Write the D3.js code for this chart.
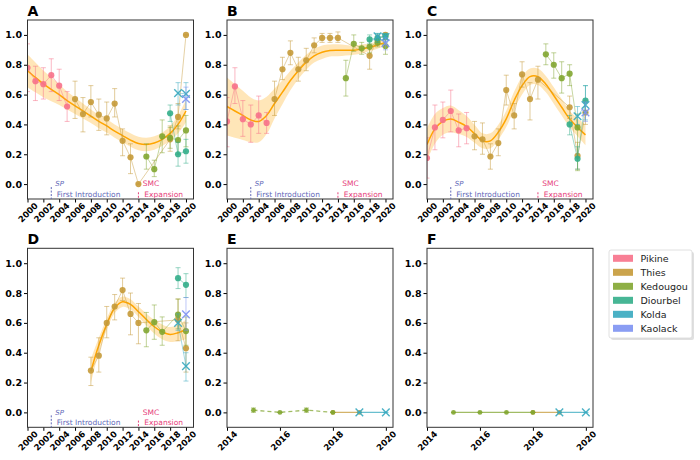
<!DOCTYPE html>
<html><head><meta charset="utf-8">
<script src="https://cdn.jsdelivr.net/npm/d3@7"></script>
<style>body{margin:0;background:#fff}svg{display:block}text{font-family:"DejaVu Sans",sans-serif}</style>
</head><body><svg id="c" width="700" height="460"></svg>
<script>
// ---------------- DATA ----------------
const regions = ['Pikine','Thies','Kedougou','Diourbel','Kolda','Kaolack'];
const colors  = ['#f77189','#c59a38','#82a631','#33ae8a','#37a9bf','#7d92f2'];
const markers = ['o','o','o','o','x','x'];
const yTicks = [0,0.2,0.4,0.6,0.8,1.0];
const xTicksLong = [2000,2002,2004,2006,2008,2010,2012,2014,2016,2018,2020];
const xTicksShort = [2014,2016,2018,2020];
const panelLabels = ['A','B','C','D','E','F'];

// rows: [year, mean, lower, upper]
const A_Pikine = [[2000,0.78,0.62,0.94],[2001,0.69,0.56,0.79],[2002,0.67,0.57,0.78],[2003,0.73,0.62,0.84],[2004,0.66,0.56,0.77],[2005,0.52,0.42,0.62]];
const A_Thies = [[2006,0.57,0.44,0.69],[2007,0.47,0.35,0.58],[2008,0.55,0.45,0.66],[2009,0.465,0.36,0.57],[2010,0.44,0.33,0.55],[2011,0.54,0.45,0.64],[2012,0.29,0.19,0.37],[2013,0.18,0.07,0.27],[2014,0.0,0.0,0.0],[2018,0.30,0.22,0.39],[2019,0.45,0.37,0.54],[2020,1.0,1.0,1.0]];
const A_Kedougou = [[2015,0.185,0.10,0.27],[2016,0.10,0.05,0.16],[2017,0.32,0.21,0.43],[2018,0.31,0.24,0.38],[2019,0.295,0.20,0.39],[2020,0.36,0.25,0.46]];
const A_Diourbel = [[2018,0.475,0.42,0.53],[2019,0.20,0.12,0.28],[2020,0.22,0.14,0.30]];
const A_Kolda = [[2019,0.61,0.53,0.68],[2020,0.605,0.50,0.68]];
const A_Kaolack = [[2020,0.57,0.50,0.65]];
const A_fitYears = [2000,2001,2002,2003,2004,2005,2006,2007,2008,2009,2010,2011,2012,2013,2014,2015,2016,2017,2018,2019,2020];
const A_fitMean = [0.76,0.715,0.672,0.635,0.60,0.56,0.525,0.49,0.455,0.42,0.39,0.355,0.325,0.295,0.272,0.265,0.275,0.30,0.34,0.40,0.49];
const A_fitHalf = [0.11,0.10,0.09,0.08,0.07,0.06,0.055,0.05,0.045,0.045,0.045,0.045,0.045,0.045,0.045,0.045,0.045,0.045,0.05,0.06,0.075];

const B_Pikine = [[2000,0.42,0.25,0.58],[2001,0.655,0.54,0.78],[2002,0.435,0.32,0.56],[2003,0.40,0.28,0.53],[2004,0.46,0.34,0.59],[2005,0.41,0.34,0.48]];
const B_Thies = [[2006,0.57,0.46,0.69],[2007,0.77,0.70,0.85],[2008,0.88,0.80,0.96],[2009,0.77,0.69,0.85],[2010,0.83,0.76,0.91],[2011,0.93,0.88,0.98],[2012,0.98,0.95,1.01],[2013,0.98,0.95,1.01],[2014,0.98,0.95,1.02],[2018,0.86,0.77,0.93],[2019,0.97,0.93,1.0],[2020,1.0,0.97,1.01]];
const B_Kedougou = [[2015,0.71,0.59,0.83],[2016,0.94,0.89,1.0],[2017,0.91,0.87,0.95],[2018,0.92,0.88,0.96],[2019,0.95,0.92,0.98],[2020,0.925,0.87,0.97]];
const B_Diourbel = [[2018,0.97,0.94,1.0],[2019,0.98,0.95,1.01],[2020,0.99,0.96,1.01]];
const B_Kolda = [[2019,0.99,0.96,1.01],[2020,0.985,0.95,1.01]];
const B_Kaolack = [[2020,0.945,0.90,0.98]];
const B_fitYears = A_fitYears;
const B_fitMean = [0.52,0.49,0.46,0.43,0.42,0.46,0.54,0.616,0.694,0.76,0.817,0.86,0.884,0.895,0.897,0.897,0.897,0.905,0.917,0.932,0.95];
const B_fitHalf = [0.195,0.18,0.165,0.15,0.14,0.125,0.10,0.08,0.065,0.055,0.05,0.045,0.045,0.04,0.04,0.035,0.03,0.03,0.025,0.025,0.025];

const C_Pikine = [[2000,0.175,0.04,0.31],[2001,0.38,0.23,0.53],[2002,0.43,0.31,0.55],[2003,0.49,0.35,0.63],[2004,0.36,0.25,0.47],[2005,0.375,0.27,0.48]];
const C_Thies = [[2006,0.32,0.23,0.42],[2007,0.30,0.20,0.41],[2008,0.185,0.10,0.27],[2009,0.275,0.19,0.37],[2010,0.63,0.53,0.73],[2011,0.46,0.37,0.54],[2012,0.735,0.65,0.82],[2013,0.57,0.43,0.68],[2014,0.70,0.57,0.79],[2018,0.515,0.44,0.59],[2019,0.19,0.10,0.28],[2020,0.48,0.40,0.56]];
const C_Kedougou = [[2015,0.87,0.80,0.94],[2016,0.80,0.71,0.88],[2017,0.71,0.61,0.82],[2018,0.74,0.66,0.80],[2019,0.38,0.09,0.47]];
const C_Diourbel = [[2018,0.40,0.33,0.46],[2019,0.17,0.10,0.25],[2020,0.56,0.48,0.66]];
const C_Kolda = [[2019,0.455,0.40,0.52],[2020,0.53,0.43,0.66]];
const C_Kaolack = [[2020,0.48,0.42,0.55]];
const C_fitYears = A_fitYears;
const C_fitMean = [0.265,0.37,0.42,0.437,0.415,0.386,0.337,0.29,0.29,0.348,0.437,0.56,0.66,0.72,0.72,0.67,0.594,0.515,0.437,0.38,0.33];
const C_fitHalf = [0.11,0.10,0.09,0.09,0.08,0.07,0.06,0.05,0.05,0.05,0.055,0.06,0.06,0.055,0.055,0.055,0.055,0.055,0.055,0.06,0.07];

const D_Pikine = [];
const D_Thies = [[2008,0.28,0.18,0.37],[2009,0.38,0.27,0.50],[2010,0.60,0.50,0.71],[2011,0.71,0.62,0.79],[2012,0.82,0.75,0.90],[2013,0.66,0.52,0.80],[2014,0.60,0.46,0.73],[2019,0.62,0.48,0.76],[2020,0.43,0.27,0.60]];
const D_Kedougou = [[2015,0.55,0.44,0.67],[2016,0.605,0.49,0.72],[2017,0.54,0.45,0.64],[2019,0.655,0.56,0.76],[2020,0.545,0.45,0.64]];
const D_Diourbel = [[2019,0.90,0.83,0.97],[2020,0.855,0.77,0.93]];
const D_Kolda = [[2019,0.60,0.55,0.66],[2020,0.31,0.21,0.40]];
const D_Kaolack = [[2020,0.657,0.55,0.77]];
const D_fitYears = [2008,2009,2010,2011,2012,2013,2014,2015,2016,2017,2018,2019,2020];
const D_fitMean = [0.276,0.45,0.59,0.70,0.742,0.724,0.675,0.623,0.574,0.54,0.522,0.534,0.556];
const D_fitHalf = [0.08,0.05,0.04,0.035,0.035,0.035,0.035,0.04,0.045,0.05,0.05,0.055,0.065];

const E_Pikine = [];
const E_Thies = [[2018,0,0,0],[2019,0,0,0]];
const E_Kedougou = [[2015,0.015,0.0,0.03],[2016,0,0,0],[2017,0.015,0.0,0.03],[2018,0,0,0]];
const E_Diourbel = [];
const E_Kolda = [[2019,0,0,0],[2020,0,0,0]];
const E_Kaolack = [];

const F_Pikine = [];
const F_Thies = [[2018,0,0,0],[2019,0,0,0]];
const F_Kedougou = [[2015,0,0,0],[2016,0,0,0],[2017,0,0,0],[2018,0,0,0]];
const F_Diourbel = [];
const F_Kolda = [[2019,0,0,0],[2020,0,0,0]];
const F_Kaolack = [];

// ---------------- LAYOUT ----------------
const svg = d3.select('#c');
const W = 166, H = 179;
const lefts = [27.5, 227, 427];
const tops = [20, 248.3];

const panels = [
  {lab:'A', col:0,row:0, dom:[2000,2020.95], ticks:xTicksLong, series:[A_Pikine,A_Thies,A_Kedougou,A_Diourbel,A_Kolda,A_Kaolack], fit:[A_fitYears,A_fitMean,A_fitHalf], annot:true, dashed:[]},
  {lab:'B', col:1,row:0, dom:[2000,2020.95], ticks:xTicksLong, series:[B_Pikine,B_Thies,B_Kedougou,B_Diourbel,B_Kolda,B_Kaolack], fit:[B_fitYears,B_fitMean,B_fitHalf], annot:true, dashed:[]},
  {lab:'C', col:2,row:0, dom:[2000,2020.95], ticks:xTicksLong, series:[C_Pikine,C_Thies,C_Kedougou,C_Diourbel,C_Kolda,C_Kaolack], fit:[C_fitYears,C_fitMean,C_fitHalf], annot:true, dashed:[]},
  {lab:'D', col:0,row:1, dom:[2000,2020.95], ticks:xTicksLong, series:[D_Pikine,D_Thies,D_Kedougou,D_Diourbel,D_Kolda,D_Kaolack], fit:[D_fitYears,D_fitMean,D_fitHalf], annot:true, dashed:[]},
  {lab:'E', col:1,row:1, dom:[2014,2020.27], ticks:xTicksShort, series:[E_Pikine,E_Thies,E_Kedougou,E_Diourbel,E_Kolda,E_Kaolack], fit:null, annot:false, dashed:['Kedougou'], small:true},
  {lab:'F', col:2,row:1, dom:[2014,2020.27], ticks:xTicksShort, series:[F_Pikine,F_Thies,F_Kedougou,F_Diourbel,F_Kolda,F_Kaolack], fit:null, annot:false, dashed:[], small:true},
];

panels.forEach((p,pi)=>{
  const L = lefts[p.col], T = tops[p.row];
  const x = d3.scaleLinear().domain(p.dom).range([L, L+W]);
  const y = d3.scaleLinear().domain([-0.1,1.1]).range([T+H, T]);
  const g = svg.append('g');
  const cid = 'clip'+pi;
  svg.append('clipPath').attr('id',cid).append('rect').attr('x',L).attr('y',T).attr('width',W).attr('height',H);
  const pg = g.append('g').attr('clip-path',`url(#${cid})`);

  if (p.fit){
    const [fy,fm,fh] = p.fit;
    const fd = fy.map((yr,i)=>({yr, m:fm[i], h:fh[i]}));
    pg.append('path').datum(fd)
      .attr('d', d3.area().curve(d3.curveCatmullRom).x(d=>x(d.yr)).y0(d=>y(d.m-d.h)).y1(d=>y(d.m+d.h)))
      .attr('fill','#ffa500').attr('fill-opacity',0.28).attr('stroke','none');
    pg.append('path').datum(fd)
      .attr('d', d3.line().curve(d3.curveCatmullRom).x(d=>x(d.yr)).y(d=>y(d.m)))
      .attr('fill','none').attr('stroke','#ffa500').attr('stroke-width',1.5);
  }

  const r = p.small ? 2.4 : 3.1;
  p.series.forEach((data,si)=>{
    if (!data.length) return;
    const col = colors[si];
    const dashed = p.dashed.includes(regions[si]);
    pg.append('path').datum(data)
      .attr('d', d3.line().x(d=>x(d[0])).y(d=>y(d[1])))
      .attr('fill','none').attr('stroke',col).attr('stroke-width', p.small?1.3:1)
      .attr('stroke-opacity', p.small?0.75:0.45)
      .attr('stroke-dasharray', dashed ? '4,3' : null);
    data.forEach(d=>{
      const eg = pg.append('g').attr('stroke',col).attr('stroke-opacity',0.5).attr('stroke-width',1);
      eg.append('line').attr('x1',x(d[0])).attr('x2',x(d[0])).attr('y1',y(d[2])).attr('y2',y(d[3]));
      eg.append('line').attr('x1',x(d[0])-2.5).attr('x2',x(d[0])+2.5).attr('y1',y(d[2])).attr('y2',y(d[2]));
      eg.append('line').attr('x1',x(d[0])-2.5).attr('x2',x(d[0])+2.5).attr('y1',y(d[3])).attr('y2',y(d[3]));
    });
    data.forEach(d=>{
      const cx = x(d[0]), cy = y(d[1]);
      if (markers[si]==='o'){
        pg.append('circle').attr('cx',cx).attr('cy',cy).attr('r',r).attr('fill',col).attr('fill-opacity',0.9);
      } else {
        const s = 3.8;
        pg.append('path').attr('d',`M${cx-s},${cy-s}L${cx+s},${cy+s}M${cx-s},${cy+s}L${cx+s},${cy-s}`)
          .attr('stroke',col).attr('stroke-width',1.4).attr('fill','none').attr('stroke-opacity',0.9);
      }
    });
  });

  const ya = g.append('g').attr('transform',`translate(${L},0)`)
    .call(d3.axisLeft(y).tickValues(yTicks).tickFormat(d3.format('.1f')).tickSize(3.5).tickPadding(2));
  ya.select('.domain').remove();
  ya.selectAll('text').attr('font-size',9.5).attr('font-weight','bold').attr('fill','#000').attr('font-family','DejaVu Sans');
  const xa = g.append('g').attr('transform',`translate(0,${T+H})`)
    .call(d3.axisBottom(x).tickValues(p.ticks).tickFormat(d3.format('d')).tickSize(3.5));
  xa.select('.domain').remove();
  xa.selectAll('text').attr('y',null).attr('dy',null)
    .attr('text-anchor','middle').attr('dominant-baseline','central')
    .attr('transform','translate(0,13.5) rotate(-45)')
    .attr('font-size',8.5).attr('font-weight','bold').attr('fill','#000').attr('font-family','DejaVu Sans');

  g.append('rect').attr('x',L).attr('y',T).attr('width',W).attr('height',H)
    .attr('fill','none').attr('stroke','#333').attr('stroke-width',1);

  g.append('text').attr('x',L).attr('y',T-4).text(p.lab)
    .attr('font-size',14).attr('font-weight','bold').attr('fill','#000');

  if (p.annot){
    const blue = '#6268b8', pink = '#e6407a';
    g.append('line').attr('x1',x(2003)).attr('x2',x(2003)).attr('y1',y(-0.02)).attr('y2',y(-0.1))
      .attr('stroke',blue).attr('stroke-width',1).attr('stroke-dasharray','2,1.5');
    g.append('text').attr('x',x(2003.5)).attr('y',y(-0.016)).text('SP')
      .attr('font-size',7).attr('font-style','italic').attr('fill',blue);
    g.append('text').attr('x',x(2003.7)).attr('y',y(-0.086)).text('First Introduction')
      .attr('font-size',7.5).attr('fill',blue);
    g.append('line').attr('x1',x(2014)).attr('x2',x(2014)).attr('y1',y(-0.055)).attr('y2',y(-0.1))
      .attr('stroke',pink).attr('stroke-width',1).attr('stroke-dasharray','2,1.5');
    g.append('text').attr('x',x(2014.55)).attr('y',y(-0.016)).text('SMC')
      .attr('font-size',7.5).attr('fill',pink);
    g.append('text').attr('x',x(2014.75)).attr('y',y(-0.086)).text('Expansion')
      .attr('font-size',7.5).attr('fill',pink);
  }
});

// legend
const lg = svg.append('g');
lg.append('rect').attr('x',611).attr('y',252).attr('width',83).attr('height',88).attr('rx',2)
  .attr('fill','#000').attr('fill-opacity',0.12);
lg.append('rect').attr('x',609).attr('y',250).attr('width',83).attr('height',88).attr('rx',2)
  .attr('fill','#fff').attr('stroke','#d8d8d8').attr('stroke-width',0.8);
regions.forEach((name,i)=>{
  const yy = 258.3 + i*14;
  lg.append('rect').attr('x',613).attr('y',yy-3.5).attr('width',20).attr('height',7)
    .attr('fill',colors[i]).attr('fill-opacity',0.9);
  lg.append('text').attr('x',640.5).attr('y',yy).attr('dominant-baseline','central')
    .attr('font-size',9.5).attr('fill','#222').text(name);
});
</script></body></html>
